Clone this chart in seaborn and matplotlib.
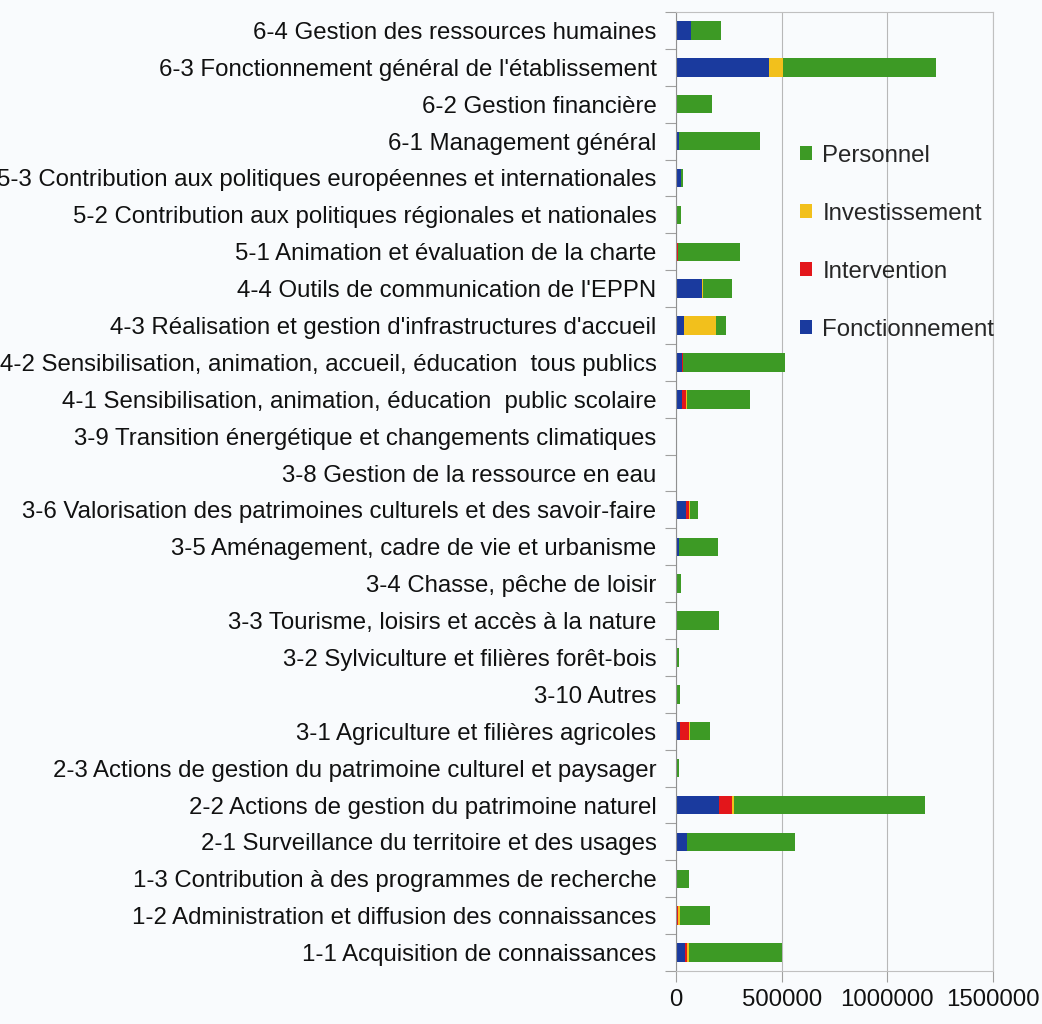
import matplotlib
matplotlib.use("Agg")
import matplotlib.pyplot as plt
import seaborn as sns
import pandas as pd
import numpy as np
from matplotlib.patches import Patch
from matplotlib.ticker import FixedLocator

categories = [
    "6-4 Gestion des ressources humaines",
    "6-3 Fonctionnement général de l'établissement",
    "6-2 Gestion financière",
    "6-1 Management général",
    "5-3 Contribution aux politiques européennes et internationales",
    "5-2 Contribution aux politiques régionales et nationales",
    "5-1 Animation et évaluation de la charte",
    "4-4 Outils de communication de l'EPPN",
    "4-3 Réalisation et gestion d'infrastructures d'accueil",
    "4-2 Sensibilisation, animation, accueil, éducation  tous publics",
    "4-1 Sensibilisation, animation, éducation  public scolaire",
    "3-9 Transition énergétique et changements climatiques",
    "3-8 Gestion de la ressource en eau",
    "3-6 Valorisation des patrimoines culturels et des savoir-faire",
    "3-5 Aménagement, cadre de vie et urbanisme",
    "3-4 Chasse, pêche de loisir",
    "3-3 Tourisme, loisirs et accès à la nature",
    "3-2 Sylviculture et filières forêt-bois",
    "3-10 Autres",
    "3-1 Agriculture et filières agricoles",
    "2-3 Actions de gestion du patrimoine culturel et paysager",
    "2-2 Actions de gestion du patrimoine naturel",
    "2-1 Surveillance du territoire et des usages",
    "1-3 Contribution à des programmes de recherche",
    "1-2 Administration et diffusion des connaissances",
    "1-1 Acquisition de connaissances",
]

fonctionnement = [69000, 439000, 0, 14000, 25000, 0, 0, 124000, 38000, 27000, 27000, 0, 4000,
                  49000, 14000, 0, 2000, 0, 0, 19000, 0, 204000, 50000, 0, 0, 41000]
intervention = [0, 0, 0, 0, 0, 0, 9000, 0, 0, 8000, 19000, 0, 0,
                11000, 0, 6000, 0, 0, 0, 42000, 0, 63000, 0, 0, 8000, 13000]
investissement = [3000, 66000, 0, 0, 0, 0, 0, 5000, 151000, 0, 6000, 0, 0,
                  8000, 0, 0, 0, 0, 0, 5000, 0, 6000, 0, 0, 11000, 9000]
personnel = [143000, 723000, 171000, 385000, 8000, 24000, 296000, 138000, 49000, 480000, 300000, 7000, 2000,
             38000, 185000, 16000, 202000, 14000, 17000, 97000, 12000, 904000, 511000, 63000, 142000, 440000]

x_ticks = [0, 500000, 1000000, 1500000]
x_tick_labels = ["0", "500000", "1000000", "1500000"]

series_names = ["Fonctionnement", "Intervention", "Investissement", "Personnel"]
colors = {"Fonctionnement": "#1a3a9e", "Intervention": "#e3161b",
          "Investissement": "#f2c01c", "Personnel": "#3d9a25"}

df = pd.DataFrame({"cat": categories,
                   "Fonctionnement": fonctionnement,
                   "Intervention": intervention,
                   "Investissement": investissement,
                   "Personnel": personnel})
cum = df[series_names].cumsum(axis=1)

sns.set_theme(style="white")
plt.rcParams["font.family"] = ["Liberation Sans", "DejaVu Sans"]

FS = 17.3

fig = plt.figure(figsize=(10.42, 10.24), dpi=100)
fig.patch.set_facecolor("#f9fbfd")
ax = fig.add_axes([676 / 1042, 1 - 971 / 1024, (993 - 676) / 1042, (971 - 12) / 1024])
ax.set_facecolor("#f9fbfd")

for name in reversed(series_names):
    sns.barplot(x=cum[name], y=df["cat"], orient="h", color=colors[name],
                width=0.5, saturation=1, ax=ax, edgecolor="none", linewidth=0)

ax.set_xlim(0, 1500000)
ax.set_ylim(len(categories) - 0.5, -0.5)
ax.set_xlabel("")
ax.set_ylabel("")

ax.xaxis.set_major_locator(FixedLocator(x_ticks))
ax.set_xticklabels(x_tick_labels)
ax.tick_params(axis="x", which="major", length=8, color="#a0a0a0", width=0.8,
               labelsize=FS, pad=5, bottom=True, labelcolor="#111111")
ax.grid(axis="x", color="#b8b8b8", linewidth=0.8)
ax.set_axisbelow(True)

ax.tick_params(axis="y", which="major", length=0, labelsize=FS, pad=14, labelcolor="#111111")
ax.yaxis.set_minor_locator(FixedLocator(np.arange(-0.5, len(categories), 1.0)))
ax.tick_params(axis="y", which="minor", length=8, color="#a0a0a0", width=0.8, left=True)

for s in ["top", "right", "bottom"]:
    ax.spines[s].set_color("#c0c0c0")
    ax.spines[s].set_linewidth(0.8)
ax.spines["left"].set_color("#909090")
ax.spines["left"].set_linewidth(0.8)

handles = [Patch(facecolor=colors[n], edgecolor="none") for n in reversed(series_names)]
leg = ax.legend(handles, list(reversed(series_names)), loc="upper left",
                bbox_to_anchor=((790 - 676) / (993 - 676), 1 - (135 - 12) / (971 - 12)),
                frameon=False, fontsize=FS, labelspacing=1.5, handlelength=0.5,
                handleheight=0.5, handletextpad=0.45, borderaxespad=0)

fig.savefig("out.png", dpi=100, facecolor=fig.get_facecolor())
